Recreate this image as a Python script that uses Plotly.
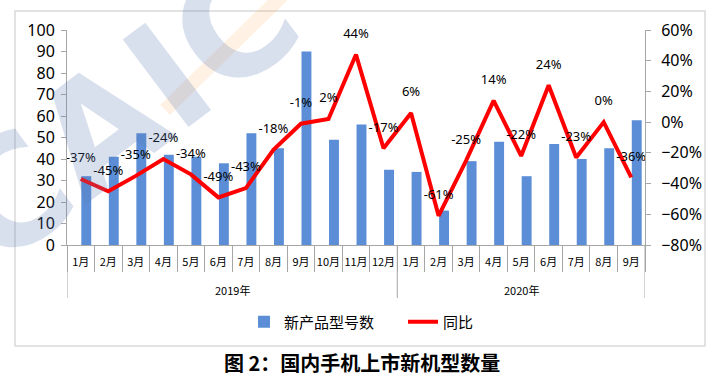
import plotly.graph_objects as go

years = ["2019年"] * 12 + ["2020年"] * 9
months = ["1月", "2月", "3月", "4月", "5月", "6月", "7月", "8月", "9月", "10月", "11月", "12月",
          "1月", "2月", "3月", "4月", "5月", "6月", "7月", "8月", "9月"]
new_models = [32, 41, 52, 42, 41, 38, 52, 45, 90, 49, 56, 35,
              34, 16, 39, 48, 32, 47, 40, 45, 58]
yoy = [-0.37, -0.45, -0.35, -0.24, -0.34, -0.49, -0.43, -0.18, -0.01, 0.02, 0.44, -0.17,
       0.06, -0.61, -0.25, 0.14, -0.22, 0.24, -0.23, 0.00, -0.36]
yoy_labels = ["-37%", "-45%", "-35%", "-24%", "-34%", "-49%", "-43%", "-18%", "-1%", "2%", "44%", "-17%",
              "6%", "-61%", "-25%", "14%", "-22%", "24%", "-23%", "0%", "-36%"]

FONT = "Noto Sans, Noto Sans CJK SC"
CJK = "Noto Sans CJK SC"
GRID = "#A6A6A6"
W, H = 723, 380
L, R, T, B = 67, 78, 30, 135
pw, ph = W - L - R, H - T - B

def px(x):
    return (x - L) / pw

def py(y):
    return (H - B - y) / ph

idx = list(range(len(months)))

fig = go.Figure()
fig.add_trace(go.Bar(
    x=idx, y=new_models, name="新产品型号数",
    marker=dict(color="#5B8ED6", line=dict(width=0)),
    width=0.36, offset=0.02,
))
fig.add_trace(go.Scatter(
    x=idx, y=yoy, name="同比", yaxis="y2",
    mode="lines+markers+text", line=dict(color="#FF0000", width=4),
    marker=dict(size=20, color="rgba(0,0,0,0)"),
    text=yoy_labels, textposition="top center", cliponaxis=False,
    textfont=dict(family=FONT, size=13, color="#000000"),
))

fig.update_layout(
    width=W, height=H,
    margin=dict(l=L, r=R, t=T, b=B, autoexpand=False),
    paper_bgcolor="white", plot_bgcolor="white",
    font=dict(family=FONT, color="#000000"),
    showlegend=True,
    legend=dict(orientation="h", x=px(244), xanchor="left", y=py(322), yanchor="middle",
                font=dict(size=15, family=CJK), traceorder="normal",
                entrywidth=114, entrywidthmode="pixels"),
    xaxis=dict(
        range=[-0.5, len(months) - 0.5], showline=True, linecolor=GRID, linewidth=1,
        tickmode="array", tickvals=idx, ticktext=months, ticks="",
        ticklabelstandoff=7,
        minor=dict(tickmode="linear", tick0=-0.5, dtick=1, ticks="outside", ticklen=26,
                   tickcolor=GRID, showgrid=False),
        tickfont=dict(size=11, family=CJK), tickangle=0,
        showgrid=False, zeroline=False, automargin=False,
    ),
    yaxis=dict(
        range=[0, 100], dtick=10, showgrid=False, showline=True, linecolor=GRID,
        ticks="outside", ticklen=5, tickcolor=GRID, ticklabelstandoff=3,
        tickfont=dict(size=16), zeroline=False, automargin=False,
    ),
    yaxis2=dict(
        range=[-0.8, 0.6], dtick=0.2, tickformat=".0%", overlaying="y", side="right",
        showgrid=False, showline=True, linecolor=GRID, ticks="outside", ticklen=5,
        tickcolor=GRID, tickfont=dict(size=16), zeroline=False, automargin=False,
        ticklabelstandoff=7,
    ),
)

# year group dividers and labels
year_names = list(dict.fromkeys(years))
bounds = [-0.5]
for yname in year_names:
    members = [i for i, v in enumerate(years) if v == yname]
    bounds.append(members[-1] + 0.5)
    fig.add_annotation(text=yname, xref="x", yref="paper",
                       x=(members[0] + members[-1]) / 2, y=py(290), yanchor="middle",
                       showarrow=False, font=dict(size=11, family=CJK, color="#000000"))
for b in bounds:
    fig.add_shape(type="line", xref="x", yref="paper", x0=b, x1=b, y0=0, y1=py(298),
                  line=dict(color=GRID, width=1))

fig.add_shape(type="rect", xref="paper", yref="paper",
              x0=px(15), x1=px(705), y0=py(346), y1=py(11),
              line=dict(color="#D9D9D9", width=1.5), fillcolor="rgba(0,0,0,0)", layer="below")

# watermark
fig.add_shape(type="line", xref="paper", yref="paper",
              x0=px(282), y0=py(-4), x1=px(165), y1=py(110),
              line=dict(color="rgba(255,175,90,0.16)", width=14), layer="below")
fig.add_annotation(text="<b>CAIC</b>", xref="paper", yref="paper", x=px(122), y=py(112),
                   xanchor="center", yanchor="middle",
                   showarrow=False, textangle=-37,
                   font=dict(size=150, family="DejaVu Sans", color="rgba(90,120,180,0.24)"))

fig.add_annotation(text="<b>图 2：国内手机上市新机型数量</b>", xref="paper", yref="paper",
                   x=0.5, xanchor="center", y=py(362), yanchor="middle", showarrow=False,
                   xshift=(W / 2 - (L + pw / 2)),
                   font=dict(size=20, family=CJK, color="#000000"))

fig.write_html("out.html", post_script="document.body.style.margin='0';",
               config={"displayModeBar": False})
